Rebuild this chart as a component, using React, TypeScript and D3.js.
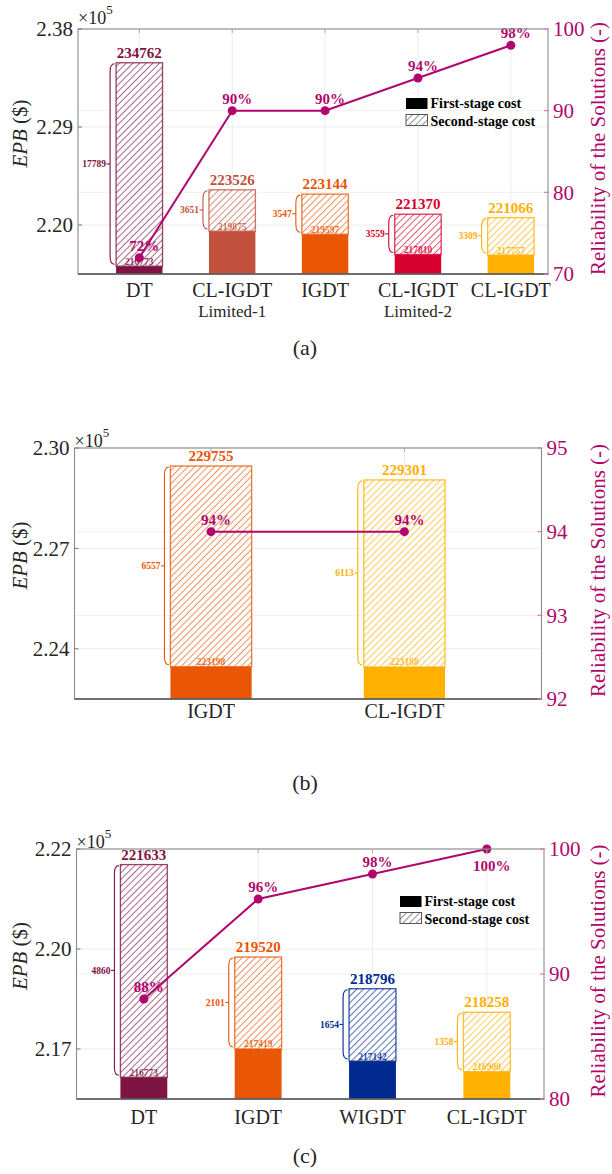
import React, { useEffect, useRef } from "react";
import * as d3 from "d3";

// panel (a)
const catsA = ["DT", "CL-IGDT", "IGDT", "CL-IGDT", "CL-IGDT"];
const subCatsA = ["", "Limited-1", "", "Limited-2", ""];
const firstA = [216773, 219875, 219597, 217810, 217757];
const totalA = [234762, 223526, 223144, 221370, 221066];
const secondA = [17789, 3651, 3547, 3559, 3309];
const relA = [72, 90, 90, 94, 98];
const colorsA = ["#7d1443", "#c2523d", "#e95605", "#d8002f", "#ffb000"];
const yTicksA = [220415, 229082, 237748];
const relTicksA = [70, 80, 90, 100];

// panel (b)
const catsB = ["IGDT", "CL-IGDT"];
const subCatsB = ["", ""];
const firstB = [223198, 223188];
const totalB = [229755, 229301];
const secondB = [6557, 6113];
const relB = [94, 94];
const colorsB = ["#e95605", "#ffb000"];
const yTicksB = [223783, 227064, 230345];
const relTicksB = [92, 93, 94, 95];

// panel (c)
const catsC = ["DT", "IGDT", "WIGDT", "CL-IGDT"];
const subCatsC = ["", "", "", ""];
const firstC = [216773, 217419, 217142, 216900];
const totalC = [221633, 219520, 218796, 218258];
const secondC = [4860, 2101, 1654, 1358];
const relC = [88, 96, 98, 100];
const colorsC = ["#7d1443", "#e95605", "#002a8f", "#ffb000"];
const yTicksC = [217418, 219703, 221989];
const relTicksC = [80, 90, 100];

const legendLabels = ["First-stage cost", "Second-stage cost"];

const SERIF = "'Liberation Serif', 'Times New Roman', serif";
const MAGENTA = "#b1076c";
const TXT = "#262626";

const panels = [
  {
    cats: catsA, sub: subCatsA, first: firstA, total: totalA, second: secondA, rel: relA,
    colors: colorsA, yTicks: yTicksA, relTicks: relTicksA, caption: "(a)",
    box: { l: 78, r: 548, t: 29, b: 274 }, yDom: [216082, 237748], xDom: [0.34, 5.4],
    barW: 0.5, relDom: [70, 100], legend: [406, 98], labelY: 297, captionY: 355, expY: 24,
  },
  {
    cats: catsB, sub: subCatsB, first: firstB, total: totalB, second: secondB, rel: relB,
    colors: colorsB, yTicks: yTicksB, relTicks: relTicksB, caption: "(b)",
    box: { l: 74.5, r: 541.5, t: 448, b: 699 }, yDom: [222142, 230345], xDom: [0.294, 2.709],
    barW: 0.42, relDom: [92, 95], legend: null, labelY: 718, captionY: 790, expY: 447,
  },
  {
    cats: catsC, sub: subCatsC, first: firstC, total: totalC, second: secondC, rel: relC,
    colors: colorsC, yTicks: yTicksC, relTicks: relTicksC, caption: "(c)",
    box: { l: 76.5, r: 544, t: 849, b: 1099 }, yDom: [216275, 221989], xDom: [0.411, 4.5],
    barW: 0.41, relDom: [80, 100], legend: [400, 896], labelY: 1124, captionY: 1163, expY: 848,
  },
];

const hatchId = (c: string) => "h" + c.slice(1);

function drawPanel(svg: any, p: any) {
  const { l, r, t, b } = p.box;
  const g = svg.append("g");
  const x = d3.scaleLinear().domain(p.xDom).range([l, r]);
  const y = d3.scaleLinear().domain(p.yDom).range([b, t]);
  const yr = d3.scaleLinear().domain(p.relDom).range([b, t]);
  const bw = x(p.barW) - x(0);
  const idx = p.cats.map((_: any, i: number) => i);
  const cx = (i: number) => x(i + 1);

  // grid
  const grid = g.append("g").attr("stroke", "#ececec").attr("stroke-width", 1);
  grid.selectAll("line.gy").data(p.yTicks).join("line")
    .attr("x1", l).attr("x2", r).attr("y1", (d: number) => y(d)).attr("y2", (d: number) => y(d));
  grid.selectAll("line.gr").data(p.relTicks.slice(1, -1)).join("line")
    .attr("x1", l).attr("x2", r).attr("y1", (d: number) => yr(d)).attr("y2", (d: number) => yr(d))
    .attr("stroke", "#f6eef2");
  grid.selectAll("line.gx").data(idx).join("line")
    .attr("x1", (i: number) => cx(i)).attr("x2", (i: number) => cx(i)).attr("y1", t).attr("y2", b);

  // first-stage bars
  g.selectAll("rect.first").data(idx).join("rect")
    .attr("x", (i: number) => cx(i) - bw / 2).attr("width", bw)
    .attr("y", (i: number) => y(p.first[i])).attr("height", (i: number) => b - y(p.first[i]))
    .attr("fill", (i: number) => p.colors[i]);

  // second-stage (hatched)
  g.selectAll("rect.second").data(idx).join("rect")
    .attr("x", (i: number) => cx(i) - bw / 2).attr("width", bw)
    .attr("y", (i: number) => y(p.total[i])).attr("height", (i: number) => y(p.first[i]) - y(p.total[i]))
    .attr("fill", (i: number) => `url(#${hatchId(p.colors[i])})`)
    .attr("stroke", (i: number) => p.colors[i]).attr("stroke-opacity", 0.8).attr("stroke-width", 1.3);

  // braces with second-stage values
  idx.forEach((i: number) => {
    const bx = cx(i) - bw / 2;
    const y0 = y(p.total[i]) + 1;
    const y1 = y(p.first[i]) - 2;
    const sx = bx - 6;
    const mid = (y0 + y1) / 2;
    const c = p.colors[i];
    g.append("path")
      .attr("d", `M${bx - 1.5},${y0} Q${sx},${y0} ${sx},${y0 + 8} L${sx},${y1 - 8} Q${sx},${y1} ${bx - 1.5},${y1}`)
      .attr("fill", "none").attr("stroke", c).attr("stroke-width", 1.1);
    g.append("line").attr("x1", sx).attr("x2", sx - 3.5).attr("y1", mid).attr("y2", mid)
      .attr("stroke", c).attr("stroke-width", 1.1);
    g.append("text").attr("x", sx - 4).attr("y", mid).attr("dy", "0.35em")
      .attr("text-anchor", "end").attr("font-family", SERIF).attr("font-weight", "bold")
      .attr("font-size", 9.5).attr("fill", c).text(p.second[i]);
    // inner first-stage label
    g.append("text").attr("x", cx(i)).attr("y", y(p.first[i]) - 1.5)
      .attr("text-anchor", "middle").attr("font-family", SERIF).attr("font-weight", "bold")
      .attr("font-size", 9.5).attr("fill", c).attr("fill-opacity", 0.85).text(p.first[i]);
    // total label
    g.append("text").attr("x", cx(i)).attr("y", y(p.total[i]) - 5)
      .attr("text-anchor", "middle").attr("font-family", SERIF).attr("font-weight", "bold")
      .attr("font-size", 15).attr("fill", c).text(p.total[i]);
  });

  // reliability line
  const line = d3.line<number>().x((i) => cx(i)).y((i) => yr(p.rel[i]));
  g.append("path").attr("d", line(idx)).attr("fill", "none")
    .attr("stroke", MAGENTA).attr("stroke-width", 2);
  g.selectAll("circle.rel").data(idx).join("circle")
    .attr("cx", (i: number) => cx(i)).attr("cy", (i: number) => yr(p.rel[i])).attr("r", 4.5)
    .attr("fill", MAGENTA);
  g.selectAll("text.rel").data(idx).join("text")
    .attr("x", (i: number) => cx(i) + 5)
    .attr("y", (i: number) => (p.rel[i] >= p.relDom[1] ? yr(p.rel[i]) + 22 : yr(p.rel[i]) - 7))
    .attr("text-anchor", "middle").attr("font-family", SERIF).attr("font-weight", "bold")
    .attr("font-size", 15).attr("fill", MAGENTA).text((i: number) => `${p.rel[i]}%`);

  // axes box
  g.append("rect").attr("x", l).attr("y", t).attr("width", r - l).attr("height", b - t)
    .attr("fill", "none").attr("stroke", "#8c8c8c").attr("stroke-width", 1.1);
  g.append("line").attr("x1", l).attr("x2", r).attr("y1", b).attr("y2", b)
    .attr("stroke", "#555").attr("stroke-width", 1.4);

  // left ticks
  g.selectAll("line.lt").data(p.yTicks).join("line")
    .attr("x1", l).attr("x2", l + 4).attr("y1", (d: number) => y(d)).attr("y2", (d: number) => y(d))
    .attr("stroke", "#777");
  g.selectAll("text.lt").data(p.yTicks).join("text")
    .attr("x", l - 5).attr("y", (d: number) => y(d)).attr("dy", "0.35em")
    .attr("text-anchor", "end").attr("font-family", SERIF).attr("font-size", 21).attr("fill", TXT)
    .text((d: number) => (d / 1e5).toFixed(2));
  // top ticks
  g.selectAll("line.tt").data(idx).join("line")
    .attr("x1", (i: number) => cx(i)).attr("x2", (i: number) => cx(i)).attr("y1", t).attr("y2", t + 4)
    .attr("stroke", "#aaa");

  // right ticks
  g.selectAll("line.rt").data(p.relTicks).join("line")
    .attr("x1", r - 4).attr("x2", r + 1).attr("y1", (d: number) => yr(d)).attr("y2", (d: number) => yr(d))
    .attr("stroke", "#e07ab0").attr("stroke-width", 1.2);
  g.selectAll("text.rt").data(p.relTicks).join("text")
    .attr("x", r + 5).attr("y", (d: number) => yr(d)).attr("dy", "0.35em")
    .attr("font-family", SERIF).attr("font-size", 21).attr("fill", MAGENTA)
    .text((d: number) => d);

  // x labels
  idx.forEach((i: number) => {
    g.append("text").attr("x", cx(i)).attr("y", p.labelY).attr("text-anchor", "middle")
      .attr("font-family", SERIF).attr("font-size", 20).attr("fill", TXT).text(p.cats[i]);
    if (p.sub[i]) {
      g.append("text").attr("x", cx(i)).attr("y", p.labelY + 20).attr("text-anchor", "middle")
        .attr("font-family", SERIF).attr("font-size", 17).attr("fill", TXT).text(p.sub[i]);
    }
  });

  // exponent
  const ex = g.append("text").attr("x", l).attr("y", p.expY).attr("font-family", SERIF)
    .attr("fill", TXT);
  ex.append("tspan").attr("font-size", 18).text("×10");
  ex.append("tspan").attr("font-size", 13).attr("dy", -10).text("5");

  // axis titles
  const yl = g.append("text")
    .attr("transform", `translate(27,${(t + b) / 2 - 18}) rotate(-90)`)
    .attr("text-anchor", "middle").attr("font-family", SERIF).attr("font-size", 21).attr("fill", TXT);
  yl.append("tspan").attr("font-style", "italic").text("EPB");
  yl.append("tspan").text(" ($)");
  g.append("text")
    .attr("transform", `translate(605,${(t + b) / 2 - 3}) rotate(-90)`)
    .attr("text-anchor", "middle").attr("font-family", SERIF).attr("font-size", 21)
    .attr("fill", MAGENTA).text("Reliability of the Solutions (-)");

  // legend
  if (p.legend) {
    const [lx, ly] = p.legend;
    const lg = g.append("g").attr("transform", `translate(${lx},${ly})`);
    lg.append("rect").attr("width", 21.5).attr("height", 11).attr("fill", "#000");
    lg.append("rect").attr("y", 16.5).attr("width", 21.5).attr("height", 11)
      .attr("fill", `url(#${hatchId("#555555")})`).attr("stroke", "#555").attr("stroke-width", 1);
    legendLabels.forEach((s, k) => {
      lg.append("text").attr("x", 24.5).attr("y", 10 + k * 17.5).attr("font-family", SERIF)
        .attr("font-weight", "bold").attr("font-size", 14).attr("fill", "#000").text(s);
    });
  }

  // caption
  g.append("text").attr("x", 305).attr("y", p.captionY).attr("text-anchor", "middle")
    .attr("font-family", SERIF).attr("font-size", 22).attr("fill", TXT).text(p.caption);
}

export default function App() {
  const svgRef = useRef<SVGSVGElement>(null);

  useEffect(() => {
    const svg = d3.select(svgRef.current);
    svg.selectAll("*").remove();
    svg.append("rect").attr("width", 612).attr("height", 1174).attr("fill", "#fff");
    const defs = svg.append("defs");
    const allColors = Array.from(new Set([...colorsA, ...colorsB, ...colorsC, "#555555"]));
    allColors.forEach((c) => {
      const s = 4.7;
      const pat = defs.append("pattern").attr("id", hatchId(c))
        .attr("patternUnits", "userSpaceOnUse").attr("width", s).attr("height", s)
        .attr("patternTransform", "rotate(45)");
      pat.append("rect").attr("width", s).attr("height", s).attr("fill", "#fff");
      pat.append("line").attr("x1", s / 2).attr("x2", s / 2).attr("y1", 0).attr("y2", s)
        .attr("stroke", c).attr("stroke-width", 1).attr("stroke-opacity", 0.65);
    });
    panels.forEach((p) => drawPanel(svg, p));
  }, []);

  return (
    <svg ref={svgRef} width={612} height={1174}
      style={{ position: "absolute", left: 0, top: 0, display: "block" }} />
  );
}
